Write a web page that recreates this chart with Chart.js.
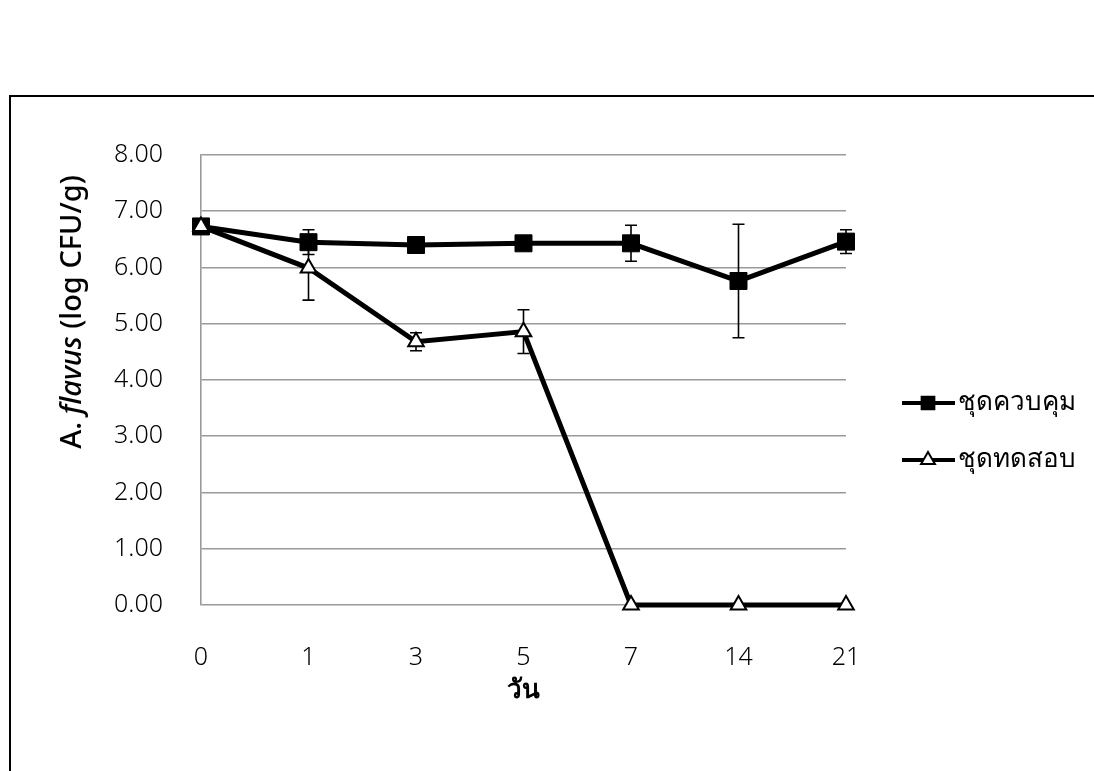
<!DOCTYPE html>
<html>
<head>
<meta charset="utf-8">
<script src="https://cdn.jsdelivr.net/npm/chart.js@4"></script>
<style>
  html, body { margin: 0; padding: 0; background: #fff; overflow: hidden; }
  #wrap { position: relative; width: 1094px; height: 771px; }
  #frame { position: absolute; left: 9px; top: 95px; width: 2000px; height: 2000px;
           border-left: 2px solid #000; border-top: 2px solid #000; }
  canvas { position: absolute; left: 0; top: 0; }
</style>
</head>
<body>
<div id="wrap">
  <div id="frame"></div>
  <canvas id="chart"></canvas>
</div>
<script>
// days of storage
const days = ['0', '1', '3', '5', '7', '14', '21'];
// control set
const controlMean = [6.73, 6.45, 6.40, 6.43, 6.43, 5.76, 6.46];
const controlErr = [0, 0.22, 0, 0, 0.32, 1.01, 0.21];
// test set
const testMean = [6.73, 5.99, 4.68, 4.86, 0, 0, 0];
const testErr = [0, 0.57, 0.16, 0.39, 0, 0, 0];
const seriesNames = ['ชุดควบคุม', 'ชุดทดสอบ'];

const tickFont = { family: 'Noto Sans, sans-serif', size: 25, weight: 300 };

// error bars, drawn under the markers
const errorBars = {
    id: 'errorBars',
    beforeDatasetsDraw(chart) {
        const ctx = chart.ctx;
        const x = chart.scales.x, y = chart.scales.y;
        const sets = [[controlMean, controlErr], [testMean, testErr]];
        ctx.save();
        ctx.strokeStyle = '#000';
        ctx.lineWidth = 1.6;
        sets.forEach(([mean, err]) => {
            mean.forEach((m, i) => {
                if (!err[i]) return;
                const px = x.getPixelForValue(i);
                const top = y.getPixelForValue(m + err[i]);
                const bot = y.getPixelForValue(m - err[i]);
                ctx.beginPath();
                ctx.moveTo(px, top); ctx.lineTo(px, bot);
                ctx.moveTo(px - 6, top); ctx.lineTo(px + 6, top);
                ctx.moveTo(px - 6, bot); ctx.lineTo(px + 6, bot);
                ctx.stroke();
            });
        });
        ctx.restore();
    }
};

// axis titles and the legend
const extras = {
    id: 'extras',
    afterDraw(chart) {
        const ctx = chart.ctx;
        const area = chart.chartArea;
        ctx.save();
        ctx.fillStyle = '#000';

        // x title
        ctx.font = 'bold 26px "Noto Sans", sans-serif';
        ctx.textAlign = 'center';
        ctx.textBaseline = 'middle';
        ctx.fillText('วัน', (area.left + area.right) / 2, area.bottom + 86);

        // y title, mixed italic
        ctx.translate(73, 312);
        ctx.rotate(-Math.PI / 2);
        const parts = [
            ['500 29px "Noto Sans", sans-serif', 'A. '],
            ['italic 500 29px "Noto Sans", sans-serif', 'flavus'],
            ['500 29px "Noto Sans", sans-serif', ' (log CFU/g)']
        ];
        let total = 0;
        parts.forEach(p => { ctx.font = p[0]; total += ctx.measureText(p[1]).width; });
        let cx = -total / 2;
        ctx.textAlign = 'left';
        parts.forEach(p => {
            ctx.font = p[0];
            ctx.fillText(p[1], cx, 0);
            cx += ctx.measureText(p[1]).width;
        });
        ctx.restore();

        // legend
        ctx.save();
        const rows = [403, 460];
        chart.data.datasets.forEach((ds, i) => {
            const ly = rows[i];
            ctx.strokeStyle = '#000';
            ctx.lineWidth = 4;
            ctx.beginPath();
            ctx.moveTo(902, ly); ctx.lineTo(955, ly);
            ctx.stroke();
            ctx.fillStyle = ds.pointBackgroundColor;
            ctx.strokeStyle = '#000';
            ctx.lineWidth = 2;
            Chart.helpers.drawPoint(ctx, {
                pointStyle: ds.pointStyle,
                radius: ds.pointStyle === 'rect' ? 9 : 8,
                borderWidth: 2
            }, 928, ly);
            ctx.fillStyle = '#000';
            ctx.font = '26px "Noto Sans", sans-serif';
            ctx.textAlign = 'left';
            ctx.textBaseline = 'middle';
            ctx.fillText(seriesNames[i], 958, ly);
        });
        ctx.restore();
    }
};

new Chart(document.getElementById('chart'), {
    type: 'line',
    data: {
        labels: days,
        datasets: [{
            label: seriesNames[0],
            data: controlMean,
            borderColor: '#000',
            borderWidth: 5,
            pointStyle: 'rect',
            pointRadius: 12,
            pointBackgroundColor: '#000',
            pointBorderColor: '#000',
            pointBorderWidth: 1,
            tension: 0,
            clip: false,
            order: 1
        }, {
            label: seriesNames[1],
            data: testMean,
            borderColor: '#000',
            borderWidth: 5,
            pointStyle: 'triangle',
            pointRadius: 9,
            pointBackgroundColor: '#fff',
            pointBorderColor: '#000',
            pointBorderWidth: 2,
            tension: 0,
            clip: false,
            order: 0
        }]
    },
    options: {
        responsive: true,
        maintainAspectRatio: false,
        animation: false,
        layout: { padding: { top: 155, right: 248, left: 0, bottom: 0 } },
        plugins: {
            legend: { display: false },
            tooltip: { enabled: false }
        },
        scales: {
            x: {
                offset: false,
                grid: { display: false, drawTicks: false },
                border: { display: false },
                ticks: { color: '#000', font: tickFont, padding: 38, maxRotation: 0 },
                afterFit(scale) { scale.height = 166; }
            },
            y: {
                min: 0,
                max: 8,
                ticks: {
                    stepSize: 1,
                    color: '#000',
                    font: tickFont,
                    padding: 38,
                    callback: v => v.toFixed(2)
                },
                grid: { color: '#9a9a9a', lineWidth: 1.6, drawTicks: false },
                border: { display: true, color: '#9a9a9a', width: 1.6 },
                afterFit(scale) { scale.width = 201; }
            }
        }
    },
    plugins: [errorBars, extras]
});
</script>
</body>
</html>
